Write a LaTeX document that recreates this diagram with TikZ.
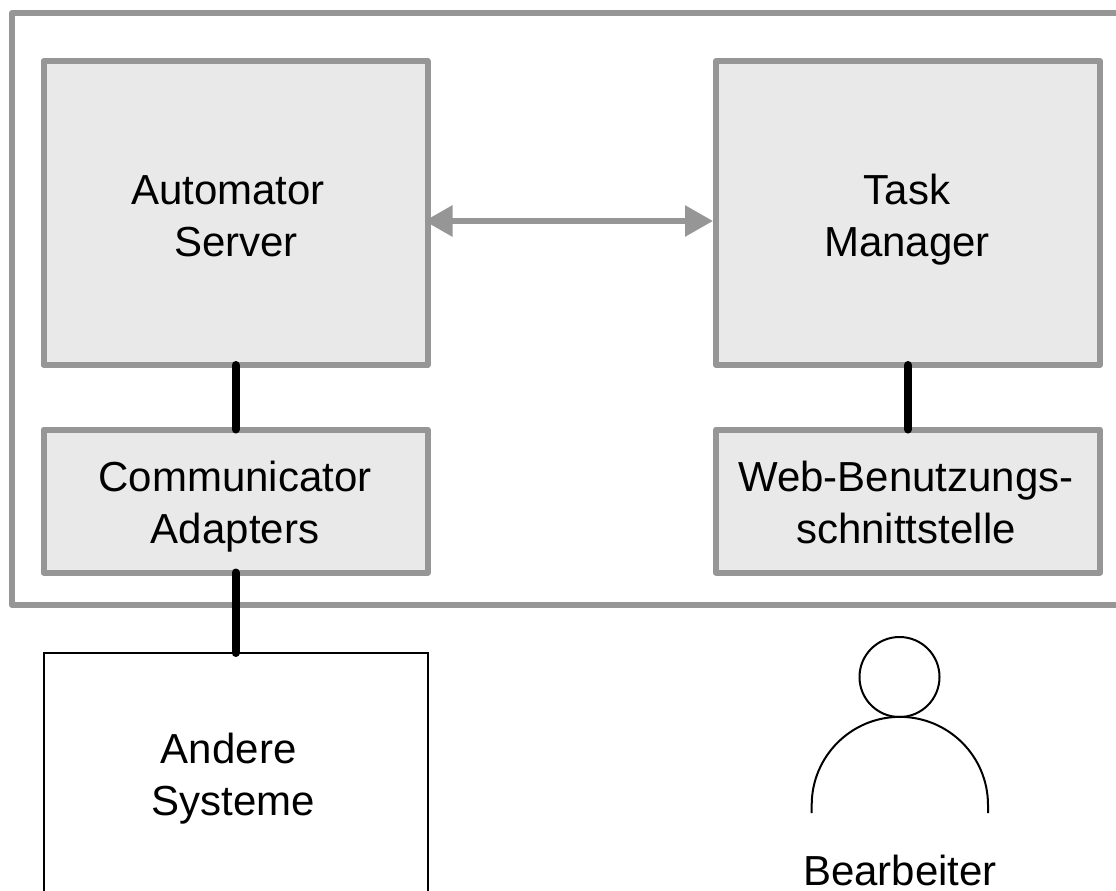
\documentclass[tikz,border=0pt]{standalone}
\usepackage{fontspec}
\setmainfont{Liberation Sans}
\usetikzlibrary{arrows.meta}
\definecolor{edgegray}{HTML}{969696}
\definecolor{boxfill}{HTML}{E9E9E9}
\tikzset{
  panel/.style={draw=edgegray,line width=6pt,line join=round,outer sep=0pt,inner sep=0pt,anchor=north west},
  compbox/.style={panel,fill=boxfill},
  plainbox/.style={draw=black,line width=2pt,outer sep=0pt,inner sep=0pt,anchor=north west},
  lbl/.style={font=\fontsize{42}{51.7}\selectfont,align=center,anchor=base,inner sep=0pt,text=black},
  link/.style={draw=black,line width=8pt,line cap=round},
  biarrow/.style={draw=edgegray,line width=6pt,{Triangle[length=28pt,width=30pt]}-{Triangle[length=28pt,width=30pt]}},
  person/.style={draw=black,line width=2pt}
}
\begin{document}
\begin{tikzpicture}[x=1pt,y=-1pt]
\useasboundingbox (0,0) rectangle (1116,891);
\clip (0,0) rectangle (1116,891);
\node[panel,minimum width=1130pt,minimum height=592pt] (outer) at (12,13) {};
\node[compbox,minimum width=384pt,minimum height=304pt] (server) at (43.5,61) {};
\node[compbox,minimum width=384pt,minimum height=304pt] (task) at (716,61) {};
\node[compbox,minimum width=384pt,minimum height=143pt] (comm) at (43.5,429.5) {};
\node[compbox,minimum width=384pt,minimum height=143pt] (web) at (716,429.5) {};
\node[plainbox,minimum width=384pt,minimum height=300pt] (other) at (43.5,653) {};
\node[lbl] (serverlbl) at (236,256) {Automator\hspace*{16pt}\\Server};
\node[lbl] (tasklbl) at (907,256) {Task\\Manager};
\node[lbl] (commlbl) at (235,543) {Communicator\\Adapters};
\node[lbl] (weblbl) at (906,543) {Web-Benutzungs-\\schnittstelle};
\node[lbl] (otherlbl) at (233.5,815) {Andere\hspace*{9.6pt}\\Systeme};
\node[lbl] (userlbl) at (900,885) {Bearbeiter};
\coordinate (al) at ([yshift=-8pt]server.east);
\coordinate (ar) at ([yshift=-8pt]task.west);
\draw[biarrow,shorten <=-3pt,shorten >=3pt] (al) -- (ar);
\draw[link] (server.south) -- (comm.north);
\draw[link] (task.south) -- (web.north);
\draw[link] (comm.south) -- (other.north);
\node[person,circle,minimum size=80pt,inner sep=0pt,outer sep=0pt] (head) at (899.5,677) {};
\draw[person] (811.7,813) -- (811.7,805) arc[start angle=180,end angle=0,radius=88.15pt] -- (988,813);
\end{tikzpicture}
\end{document}
